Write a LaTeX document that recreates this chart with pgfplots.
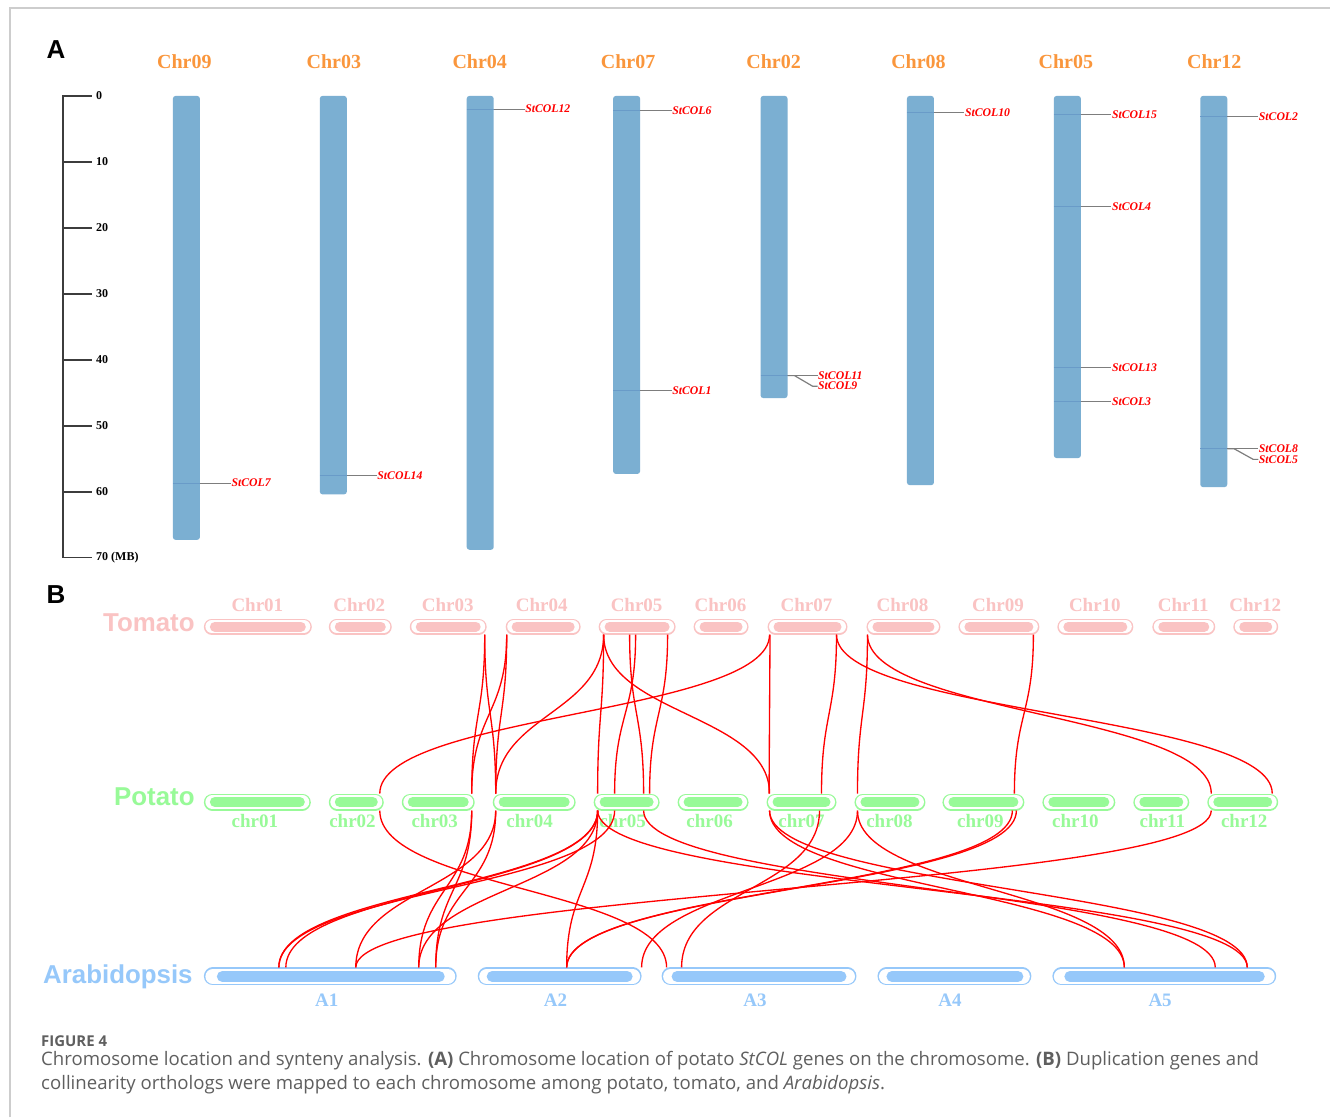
\documentclass[border=0pt]{standalone}
\usepackage{pgfplots}
\pgfplotsset{compat=1.18}
\usepackage{fontspec}
\setmainfont{Liberation Serif}
\newfontfamily\arialf{Liberation Sans}
\newfontfamily\capf{Open Sans}
\definecolor{chrorange}{RGB}{250,150,60}
\definecolor{barblue}{RGB}{123,175,210}
\definecolor{barline}{RGB}{105,155,200}
\definecolor{genegray}{RGB}{125,125,125}
\definecolor{tomC}{RGB}{250,195,195}
\definecolor{potC}{RGB}{152,250,152}
\definecolor{araC}{RGB}{150,200,250}
\definecolor{capgray}{RGB}{95,95,95}
\definecolor{framegray}{RGB}{205,205,205}
\definecolor{rulergray}{RGB}{60,60,60}
\tikzset{link/.style={draw=red, line width=1pt}}
% chromosome pills: outer-left, outer-right, inner-left, inner-right (centre-line ends, px)
\newcommand{\tomchr}[4]{%
 \addplot[tomC, line width=12pt, line cap=round] coordinates {(#1,627) (#2,627)};
 \addplot[white, line width=9.75pt, line cap=round] coordinates {(#1,627) (#2,627)};
 \addplot[tomC, line width=7.5pt, line cap=round] coordinates {(#3,627) (#4,627)};}
\newcommand{\potchr}[4]{%
 \addplot[potC, line width=12.75pt, line cap=round] coordinates {(#1,802.5) (#2,802.5)};
 \addplot[white, line width=10.5pt, line cap=round] coordinates {(#1,802.5) (#2,802.5)};
 \addplot[potC, line width=7.5pt, line cap=round] coordinates {(#3,802.5) (#4,802.5)};}
\newcommand{\arachr}[4]{%
 \addplot[araC, line width=13.5pt, line cap=round] coordinates {(#1,977) (#2,977)};
 \addplot[white, line width=11.25pt, line cap=round] coordinates {(#1,977) (#2,977)};
 \addplot[araC, line width=8.25pt, line cap=round] coordinates {(#3,977) (#4,977)};}
% synteny links
\newcommand{\tp}[2]{\draw[link] (axis cs:#1,635) .. controls (axis cs:#1,714.5) and (axis cs:#2,714.5) .. (axis cs:#2,794);}
\newcommand{\pa}[2]{\draw[link] (axis cs:#1,811) .. controls (axis cs:#1,889.5) and (axis cs:#2,889.5) .. (axis cs:#2,968);}
% genes on panel A: bar-left, bar-right, label-x, MB, name
\newcommand{\glabel}[3]{\node[anchor=west, inner sep=0.3pt, text=red, font=\fontsize{8.8}{9}\selectfont\bfseries\itshape] at (axis cs:#1,#2) {#3};}
\newcommand{\gene}[5]{%
 \addplot[barline, line width=0.75pt] coordinates {(#1,#4) (#2,#4)};
 \addplot[genegray, line width=0.9pt] coordinates {(#2,#4) (#3,#4)};
 \glabel{#3}{#4}{#5}}

\begin{document}
\begin{tikzpicture}
% ---------------- canvas axis in pixel coordinates ----------------
\begin{axis}[at={(0,0)}, anchor=south west, width=998.25pt, height=838.5pt, scale only axis,
  xmin=0, xmax=1331, ymin=0, ymax=1118, y dir=reverse, hide axis, clip=false]
\path[fill=white] (axis cs:0,0) rectangle (axis cs:1331,1118);
% frame
\addplot[framegray, line width=1.2pt] coordinates {(10,1118) (10,8) (1331,8)};
% panel letters
\node[font=\arialf\bfseries\fontsize{19.5}{20}\selectfont] at (axis cs:56,50) {A};
\node[font=\arialf\bfseries\fontsize{19.5}{20}\selectfont] at (axis cs:56,595) {B};
% panel A chromosome names
\foreach \xx/\nn in {184.5/Chr09, 334/Chr03, 480/Chr04, 628.5/Chr07, 774/Chr02, 919/Chr08, 1066.5/Chr05, 1215/Chr12}{
  \edef\temp{\noexpand\node[anchor=base, inner sep=0pt, text=chrorange, font=\noexpand\bfseries\noexpand\fontsize{15}{16}\noexpand\selectfont] at (axis cs:\xx,69) {\nn};}\temp
}
% species labels
\node[anchor=base east, inner sep=0pt, text=tomC, font=\arialf\bfseries\fontsize{19.4}{20}\selectfont] at (axis cs:195,632) {Tomato};
\node[anchor=base east, inner sep=0pt, text=potC, font=\arialf\bfseries\fontsize{19.4}{20}\selectfont] at (axis cs:195,806) {Potato};
\node[anchor=base east, inner sep=0pt, text=araC, font=\arialf\bfseries\fontsize{19.4}{20}\selectfont] at (axis cs:193,984) {Arabidopsis};
% tomato names
\foreach \xx/\nn in {257.5/Chr01, 359.5/Chr02, 448/Chr03, 542/Chr04, 637/Chr05, 721/Chr06, 807/Chr07, 903/Chr08, 998.5/Chr09, 1095.5/Chr10, 1184/Chr11, 1256/Chr12}{
  \edef\temp{\noexpand\node[anchor=base, inner sep=0pt, text=tomC, font=\noexpand\bfseries\noexpand\fontsize{14.25}{15}\noexpand\selectfont] at (axis cs:\xx,612) {\nn};}\temp
}
% potato names
\foreach \xx/\nn in {255/chr01, 352.7/chr02, 435/chr03, 530/chr04, 623/chr05, 710/chr06, 802/chr07, 890/chr08, 981/chr09, 1076/chr10, 1163/chr11, 1245/chr12}{
  \edef\temp{\noexpand\node[anchor=base, inner sep=0pt, text=potC, font=\noexpand\bfseries\noexpand\fontsize{14.25}{15}\noexpand\selectfont] at (axis cs:\xx,828) {\nn};}\temp
}
% arabidopsis names
\foreach \xx/\nn in {327/A1, 555.8/A2, 755.5/A3, 950.5/A4, 1160.8/A5}{
  \edef\temp{\noexpand\node[anchor=base, inner sep=0pt, text=araC, font=\noexpand\bfseries\noexpand\fontsize{14.25}{15}\noexpand\selectfont] at (axis cs:\xx,1007) {\nn};}\temp
}
% tomato chromosomes
\tomchr{212}{304}{215}{301}
\tomchr{337}{384}{340}{381}
\tomchr{418}{479}{421}{476}
\tomchr{514}{573}{517}{570}
\tomchr{607}{668}{610}{665}
\tomchr{702}{741}{705}{738}
\tomchr{776}{840}{779}{837}
\tomchr{875}{933}{878}{930}
\tomchr{967}{1032}{970}{1029}
\tomchr{1066}{1126}{1069}{1123}
\tomchr{1161}{1208}{1164}{1205}
\tomchr{1242}{1271}{1245}{1268}
% potato chromosomes
\potchr{212.5}{302.5}{215}{300}
\potchr{337.5}{375.5}{340}{373}
\potchr{410.5}{466.5}{413}{464}
\potchr{501.5}{567.5}{504}{565}
\potchr{602.5}{651.5}{605}{649}
\potchr{686.5}{740.5}{689}{738}
\potchr{775.5}{828.5}{778}{826}
\potchr{863.5}{917.5}{866}{915}
\potchr{951.5}{1016.5}{954}{1014}
\potchr{1051.5}{1107.5}{1054}{1105}
\potchr{1142.5}{1181.5}{1145}{1179}
\potchr{1216.5}{1270.5}{1219}{1268}
% arabidopsis chromosomes
\arachr{213}{448}{222.5}{439.5}
\arachr{487}{633}{492.5}{627.5}
\arachr{671}{848}{677.5}{841.5}
\arachr{887}{1023}{892.5}{1018.5}
\arachr{1062}{1268}{1070.5}{1260}
% tomato -> potato links
\tp{485}{496} \tp{485}{472} \tp{507}{472} \tp{507}{496}
\tp{604}{496} \tp{604}{598} \tp{604}{770}
\tp{630}{644} \tp{636}{615} \tp{668}{650}
\tp{770}{380} \tp{770.5}{769.5}
\tp{837}{822} \tp{837}{1273}
\tp{868}{858} \tp{868}{1212}
\tp{1034}{1015}
% potato -> arabidopsis links
\pa{598}{279} \pa{615}{279} \pa{598}{286} \pa{496}{356} \pa{1212}{356}
\pa{472}{419} \pa{598}{419} \pa{472}{436} \pa{496}{436}
\pa{598}{567} \pa{1013}{567} \pa{1017}{567} \pa{858}{642}
\pa{380}{667} \pa{820}{682}
\pa{858}{1125} \pa{770}{1125} \pa{644}{1216} \pa{770}{1248} \pa{598}{1248}
% caption
\node[anchor=base west, inner sep=0pt, text=capgray, font=\capf\bfseries\fontsize{11.2}{12}\selectfont] at (axis cs:41,1047) {FIGURE 4};
\node[anchor=base west, inner sep=0pt, text=capgray, font=\capf\fontsize{13.95}{15}\selectfont] at (axis cs:41,1066) {Chromosome location and synteny analysis. \textbf{(A)} Chromosome location of potato \textit{StCOL} genes on the chromosome. \textbf{(B)} Duplication genes and};
\node[anchor=base west, inner sep=0pt, text=capgray, font=\capf\fontsize{13.95}{15}\selectfont] at (axis cs:41,1090) {collinearity orthologs were mapped to each chromosome among potato, tomato, and \textit{Arabidopsis}.};
\end{axis}
% ---------------- panel A axis: x in px, y in MB ----------------
\begin{axis}[at={(0,0)}, anchor=south west, width=998.25pt, height=838.5pt, scale only axis,
  xmin=0, xmax=1331, ymin=-14.5455, ymax=154.8485, y dir=reverse, hide axis, clip=false]
% ruler
\addplot[rulergray, line width=1.2pt, unbounded coords=jump] coordinates {
 (92,0) (63,0) (63,70) (92,70) (nan,nan)
 (63,10) (92,10) (nan,nan) (63,20) (92,20) (nan,nan) (63,30) (92,30) (nan,nan)
 (63,40) (92,40) (nan,nan) (63,50) (92,50) (nan,nan) (63,60) (92,60)};
\foreach \mm/\ll in {0/0, 10/10, 20/20, 30/30, 40/40, 50/50, 60/60, 70/70 (MB)}{
  \edef\temp{\noexpand\node[anchor=west, inner sep=0pt, text=black, font=\noexpand\bfseries\noexpand\fontsize{9}{10}\noexpand\selectfont] at (axis cs:96,\mm) {\ll};}\temp
}
% chromosomes (length in MB)
\addplot[ybar, bar width=20.25pt, fill=barblue, draw=none, rounded corners=2pt] coordinates {
 (186.5,67.3) (333.5,60.4) (480.5,68.8) (627,57.3) (774.5,45.8) (921,59.0) (1068,54.9) (1214.5,59.3)};
% genes
\gene{173}{200}{231}{58.7}{StCOL7}
\gene{320}{347}{377}{57.5}{StCOL14}
\gene{467}{494}{525}{2.0}{StCOL12}
\gene{613.5}{640.5}{672}{2.2}{StCOL6}
\gene{613.5}{640.5}{672}{44.7}{StCOL1}
\gene{907.5}{934.5}{965}{2.5}{StCOL10}
\gene{1054.5}{1081.5}{1112}{2.8}{StCOL15}
\gene{1054.5}{1081.5}{1112}{16.8}{StCOL4}
\gene{1054.5}{1081.5}{1112}{41.2}{StCOL13}
\gene{1054.5}{1081.5}{1112}{46.3}{StCOL3}
\gene{1201}{1228}{1259}{3.1}{StCOL2}
\gene{761}{788}{818}{42.4}{StCOL11}
\addplot[genegray, line width=0.9pt] coordinates {(788,42.4) (795,42.4) (813,44.0) (818,44.0)};
\glabel{818}{44.0}{StCOL9}
\gene{1201}{1228}{1259}{53.5}{StCOL8}
\addplot[genegray, line width=0.9pt] coordinates {(1228,53.5) (1235,53.5) (1254,55.1) (1259,55.1)};
\glabel{1259}{55.1}{StCOL5}
\end{axis}
\end{tikzpicture}
\end{document}
